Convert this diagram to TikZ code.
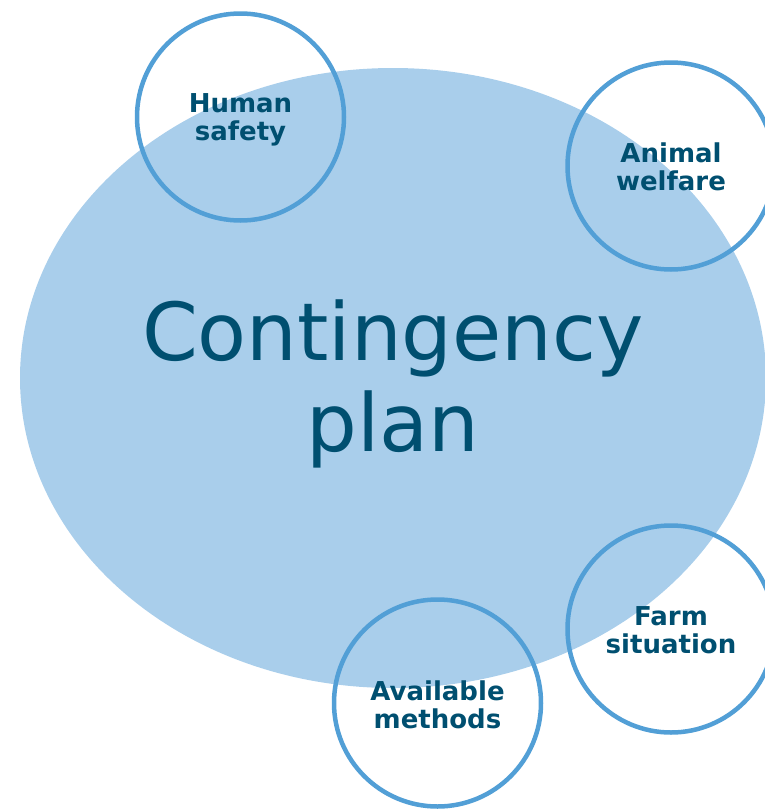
\documentclass[tikz,border=0pt]{standalone}
\usepackage{fontspec}
\setmainfont{DejaVu Sans}
\usetikzlibrary{shapes.geometric}
\definecolor{planfill}{RGB}{169,206,235}
\definecolor{ringblue}{RGB}{82,159,214}
\definecolor{inkteal}{RGB}{0,79,112}
\tikzset{
  planshape/.style={ellipse, fill=planfill, draw=none, inner sep=0pt,
    minimum width=746pt, minimum height=620pt},
  planlabel/.style={text=inkteal, align=center,
    font=\fontsize{80}{91}\selectfont},
  ring/.style={circle, draw=ringblue, line width=4.5pt, inner sep=0pt,
    minimum size=207pt},
  ringlabel/.style={text=inkteal, align=center,
    font=\fontsize{26}{28}\selectfont\bfseries},
}
\begin{document}
\begin{tikzpicture}[x=1pt,y=-1pt]
  \useasboundingbox (0,0) rectangle (765,809);
  \clip (0,0) rectangle (765,809);
  % central plan
  \node[planshape] (plan) at (393,378) {};
  \node[planlabel] (plantext) at (393,384) {Contingency\\plan};
  % surrounding considerations
  \node[ring] (hs) at (240.5,117) {};
  \node[ring] (aw) at (671,166) {};
  \node[ring] (fs) at (671,629) {};
  \node[ring] (am) at (437.5,703) {};
  \node[ringlabel] (hst) at (240.5,119.5) {Human\\safety};
  \node[ringlabel] (awt) at (671,167) {Animal\\welfare};
  \node[ringlabel] (fst) at (671,630) {Farm\\situation};
  \node[ringlabel] (amt) at (437.5,705) {Available\\methods};
\end{tikzpicture}
\end{document}
